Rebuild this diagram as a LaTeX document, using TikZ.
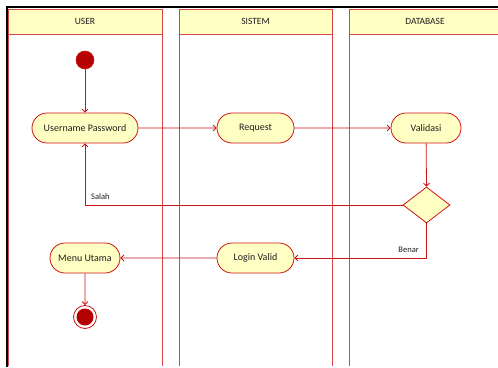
\documentclass[tikz,border=0pt]{standalone}
\usepackage{fontspec}
\setmainfont{Carlito}
\usetikzlibrary{arrows.meta,shapes.geometric,shapes.misc}
\definecolor{umlred}{RGB}{204,20,20}
\definecolor{lanered}{RGB}{214,70,70}
\definecolor{umlfill}{RGB}{255,255,196}
\definecolor{startred}{RGB}{180,0,0}
\definecolor{txt}{RGB}{30,30,30}
\tikzset{
  x=1pt, y=-1pt,
  lanehead/.style={draw=lanered, fill=umlfill, line width=1pt},
  laneline/.style={draw=lanered, line width=1pt},
  action/.style={draw=umlred, fill=umlfill, rounded rectangle, line width=0.8pt,
    minimum height=30pt, inner sep=0pt, font=\fontsize{10}{11}\selectfont, text=txt},
  decision/.style={draw=umlred, fill=umlfill, diamond, line width=0.8pt,
    minimum width=47pt, minimum height=36pt, inner sep=0pt, aspect=1.3},
  flow/.style={draw=umlred, line width=0.8pt, -{Straight Barb[length=3pt,width=6pt]}},
  guard/.style={font=\fontsize{8.5}{9}\selectfont, text=txt, inner sep=0pt},
  headtext/.style={font=\fontsize{9.5}{10}\selectfont, text=txt, inner sep=0pt}
}
\begin{document}
\begin{tikzpicture}
\useasboundingbox (0,0) rectangle (498,367);
% swimlanes
\foreach \xa/\xb/\name/\lbl in {8/162/u/USER,179/332/s/SISTEM,349/501/d/DATABASE}{
  \draw[laneline] (\xa,34) -- (\xa,366);
  \draw[laneline] (\xb,34) -- (\xb,366);
  \draw[lanehead] (\xa,9) rectangle (\xb,34);
  \node[headtext] (h\name) at ({(\xa+\xb)/2},21.5) {\lbl};
}
% outer frame
\draw[black, line width=2pt] (7,367) -- (7,7) -- (498,7);

% nodes
\node[circle, fill=startred, draw=umlred, line width=0.6pt, minimum size=18pt, inner sep=0pt] (start) at (85,60) {};
\node[action, minimum width=106pt] (up) at (85,128) {Username Password};
\node[action, minimum width=77pt] (req) at (255.5,128) {Request};
\node[action, minimum width=70pt] (val) at (426,128) {Validasi};
\node[decision] (dec) at (426.5,205) {};
\node[action, minimum width=77pt] (lv) at (255.5,258) {Login Valid};
\node[action, minimum width=70pt] (mu) at (85,258) {Menu Utama};
\node[circle, draw=umlred, fill=white, line width=0.8pt, minimum size=23pt, inner sep=0pt] (end) at (85,317) {};
\node[circle, fill=startred, minimum size=17pt, inner sep=0pt] (endin) at (end) {};
\coordinate (salahc) at (85,205);
\coordinate (benarc) at (426.5,258);

% flows
\draw[flow] (start) -- (up);
\draw[flow] (up) -- (req);
\draw[flow] (req) -- (val);
\draw[flow] (val) -- (dec.north);
\draw[flow] (dec.west) -- (salahc) -- (up.south);
\draw[flow] (dec.south) -- (benarc) -- (lv.east);
\draw[flow] (lv) -- (mu);
\draw[flow] (mu) -- (end);

% guards
\node[guard, anchor=south west] (gs) at (91,200) {Salah};
\node[guard, anchor=south east] (gb) at (419,253) {Benar};
\end{tikzpicture}
\end{document}
